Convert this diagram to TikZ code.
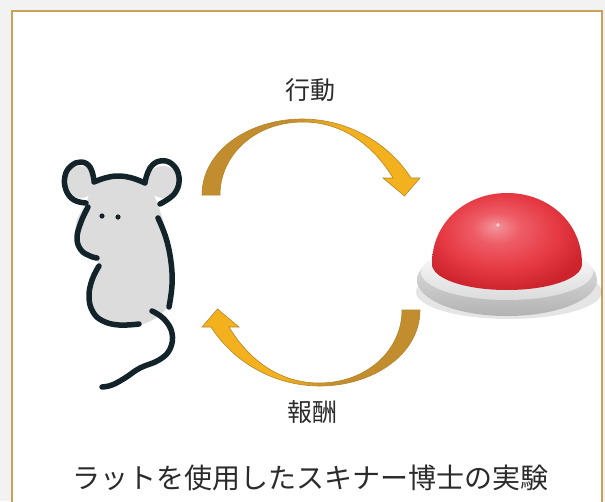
\documentclass[tikz,border=0pt]{standalone}
\usepackage{fontspec}
\newfontfamily\jp{Noto Sans CJK JP}
\definecolor{pagegray}{HTML}{F2F2F2}
\definecolor{framecol}{HTML}{C9A25A}
\definecolor{arrowdark}{HTML}{C28D2E}
\definecolor{arrowlight}{HTML}{F3B11D}
\definecolor{arrowedge}{HTML}{B5852A}
\definecolor{inkcol}{HTML}{13232A}
\definecolor{furcol}{HTML}{DCDCDC}
\definecolor{textcol}{HTML}{2B2B2B}
\definecolor{domehi}{HTML}{F2949B}
\definecolor{domemid}{HTML}{EE5C66}
\definecolor{domemain}{HTML}{E63A44}
\definecolor{domedark}{HTML}{CC232D}
% dark tail on the left, bright head on the right
\pgfdeclarehorizontalshading{arrowgrad}{100bp}{color(0bp)=(arrowdark); color(45bp)=(arrowdark); color(57bp)=(arrowlight); color(100bp)=(arrowlight)}
% dome highlight sits up and to the left of centre
\pgfdeclareradialshading{domeshade}{\pgfpoint{-4bp}{8bp}}{color(0bp)=(domehi); color(8bp)=(domemid); color(19bp)=(domemain); color(29bp)=(domedark); color(50bp)=(domedark)}
\tikzset{
  curvearrow/.style={shading=arrowgrad, draw=arrowedge, line width=0.6pt},
  mouseline/.style={draw=inkcol, line width=5.5pt, line cap=round, line join=round},
  label/.style={font=\jp\fontsize{25}{30}\selectfont, text=textcol, inner sep=0pt},
  caption/.style={font=\jp\fontsize{28}{34}\selectfont, text=textcol, inner sep=0pt}
}
% half-ring arrow, drawn around its own centre (y grows downwards)
\newcommand\halfringarrow{%
  (-109,-57.5) .. controls (-109,-102.5) and (-61,-133.5) .. (-9,-133.5)
  .. controls (39,-133.5) and (79,-107.5) .. (100,-74.5)
  -- (109,-74.5) -- (93.5,-56.5) -- (72,-74.5) -- (82,-74.5)
  .. controls (64,-104.5) and (34,-130.5) .. (-8,-130.5)
  .. controls (-56,-130.5) and (-91,-97.5) .. (-91,-57.5) -- cycle}
\begin{document}
\begin{tikzpicture}[x=1pt,y=-1pt]
\useasboundingbox (0,0) rectangle (605,501);
\fill[pagegray] (0,0) rectangle (605,501);
\draw[framecol, line width=2pt, fill=white] (12,11) rectangle (602,515);

% mouse: body fill
\fill[furcol] plot[smooth cycle, tension=0.6] coordinates {
  (93,183) (117,177) (145,183) (158,205) (168,240) (173,273) (169,305)
  (140,325) (100,320) (89,303) (90,280) (99,264) (83,253) (76,240) (77,220) (87,202)};
\fill[furcol] (80,182) circle (16);
\fill[furcol] (163,182) circle (16);
% mouse: outline strokes
\draw[mouseline] plot[smooth, tension=0.7] coordinates {(86,203) (74,200) (66,190) (65,176) (71,166) (81,162) (90,167) (94,180)};
\draw[mouseline] plot[smooth, tension=0.7] coordinates {(94,182) (105,178) (118,176) (132,178) (145,183)};
\draw[mouseline] plot[smooth, tension=0.7] coordinates {(145,182) (150,168) (160,161) (172,164) (179,177) (175,193) (160,204)};
\draw[mouseline] plot[smooth, tension=0.7] coordinates {(88,207) (81,222) (77,238) (81,250) (90,256) (97,258)};
\draw[mouseline] plot[smooth, tension=0.7] coordinates {(99,266) (92,280) (89,297) (93,312) (103,321) (119,325) (139,324)};
\draw[mouseline] plot[smooth, tension=0.7] coordinates {(158,218) (166,238) (171,262) (172,285) (169,307)};
\draw[mouseline] plot[smooth, tension=0.7] coordinates {(152,311) (164,319) (172,333) (170,349) (159,360) (140,368) (125,378) (112,385) (102,387)};
\fill[inkcol] (102,216) circle (2.6);
\fill[inkcol] (118,217) circle (2.6);

% arrows
\begin{scope}[shift={(311,252.5)}]
  \path[curvearrow] \halfringarrow;
\end{scope}
\begin{scope}[shift={(311,252.5)}, rotate=180]
  \path[curvearrow, shading angle=180] \halfringarrow;
\end{scope}

% button: shadow, base, rim, dome
\fill[black, opacity=0.10] (509,292) ellipse [x radius=93, y radius=27];
\shade[top color=white!92!black, bottom color=black!30] (507,280) ellipse [x radius=90, y radius=36];
\shade[top color=white, bottom color=black!14] (507,272) ellipse [x radius=86, y radius=28];
\path[shading=domeshade]
  (432,264) .. controls (432,222) and (466,193) .. (507,193)
  .. controls (548,193) and (582,222) .. (582,264)
  .. controls (582,279) and (548,290) .. (507,290)
  .. controls (466,290) and (432,279) .. (432,264) -- cycle;
\fill[white, opacity=0.6] (498,225) circle (1.8);

% labels
\node[label] (act) at (310,90) {行動};
\node[label] (rew) at (312,412) {報酬};
\node[caption] (cap) at (310,478) {ラットを使用したスキナー博士の実験};
\end{tikzpicture}
\end{document}
